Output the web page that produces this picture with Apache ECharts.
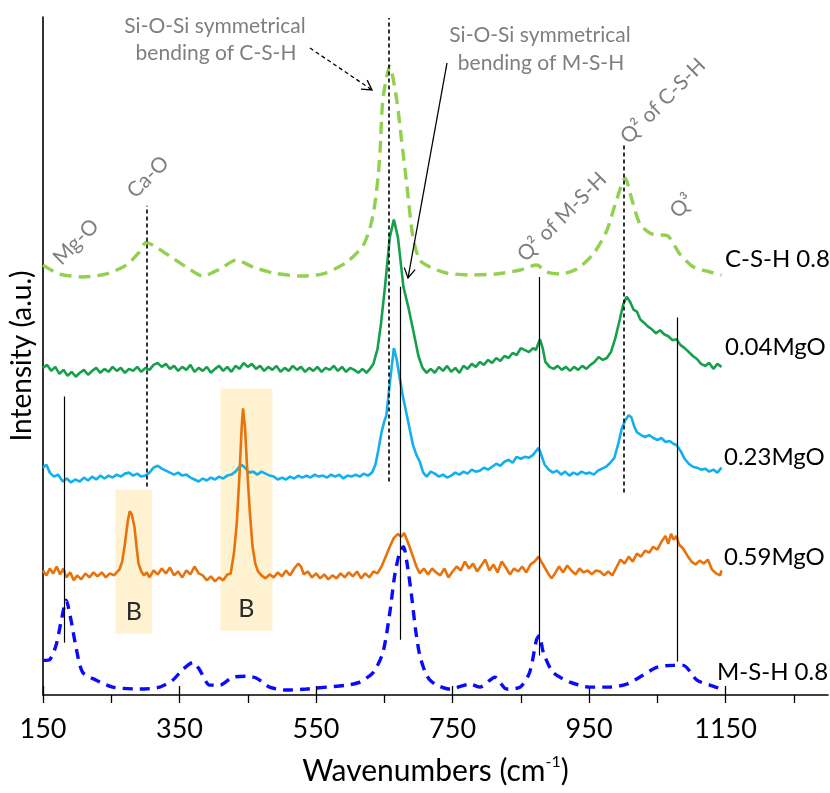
<!DOCTYPE html>
<html><head><meta charset="utf-8">
<script src="https://cdn.jsdelivr.net/npm/echarts@6/dist/echarts.min.js"></script>
<style>html,body{margin:0;padding:0;background:#fff}#c{width:830px;height:793px}</style>
</head><body><div id="c"></div>
<script>
// ---------- DATA (wavenumber cm-1, stacked intensity a.u.) ----------
const cshX = [150,174,208,243,272,291,301,316,340,360,384,409,433,458,487,526,560,595,619,630,636,641,644,648,658,668,675,683,692,702,717,741,775,814,849,873,888,907,932,956,976,988,1003,1012,1025,1044,1064,1083,1103,1127,1144];
const cshY = [450,441,438,441,450,463,473,468,457,448,439,446,455,448,442,439,441,453,470,490,511,540,568,618,651,618,578,531,478,455,448,442,440,441,445,450,443,441,446,461,485,511,538,518,491,481,480,461,448,443,440];

const mg004X = [150,156,162,168,174,180,186,192,198,204,210,216,222,228,234,240,246,252,258,264,270,276,282,288,294,300,306,312,318,324,330,336,342,348,354,360,366,372,378,384,390,396,402,408,414,420,426,432,438,444,450,456,462,468,474,480,486,492,498,504,510,516,522,528,534,540,546,552,558,564,570,576,582,588,594,600,606,612,618,624,630,634,640,645,651,658,664,670,678,685,692,700,706,712,718,724,730,736,742,748,754,760,766,772,778,784,790,796,802,808,814,820,826,832,838,844,850,856,862,868,872,878,882,886,892,898,904,910,916,922,928,934,940,946,952,958,964,970,976,982,988,995,1000,1005,1010,1015,1020,1025,1030,1036,1042,1048,1054,1060,1066,1072,1078,1084,1090,1096,1102,1108,1114,1120,1126,1132,1138,1144];
const mg004Y = [346,349,343,347,340,344,338,342,337,341,344,339,343,346,341,345,342,347,343,346,341,345,343,347,342,346,344,349,351,347,350,345,348,343,347,344,349,342,346,343,347,341,345,348,343,347,342,348,345,351,347,350,345,348,343,347,344,348,342,346,343,348,344,347,342,346,343,347,342,346,344,348,343,347,342,346,344,341,345,341,346,350,365,390,428,478,496,478,428,408,385,358,346,341,345,341,347,343,348,342,346,341,348,345,350,347,352,349,354,351,356,353,358,356,361,359,366,364,362,366,364,375,366,352,347,345,348,344,347,343,347,344,348,345,349,352,357,354,356,362,375,395,410,418,413,405,403,395,392,388,385,381,384,380,378,374,375,369,366,362,358,355,350,348,351,345,350,347];

const mg023X = [150,155,160,166,172,179,185,191,197,204,210,216,222,228,234,240,246,252,258,264,270,276,282,288,294,300,306,312,318,324,330,336,342,348,354,360,366,372,378,384,390,396,402,408,414,420,426,432,438,441,446,452,458,464,470,476,482,488,494,500,506,512,518,524,530,536,542,548,554,560,566,572,578,584,590,596,602,608,614,620,626,632,637,641,646,650,653,658,664,668,672,677,683,692,697,702,707,712,718,724,730,736,742,748,754,760,766,772,778,784,790,796,802,808,814,820,826,832,838,844,850,856,862,868,876,880,885,891,897,903,909,915,921,927,933,939,945,951,957,963,969,975,981,987,993,998,1003,1008,1012,1016,1020,1026,1032,1038,1044,1050,1056,1062,1068,1074,1078,1084,1090,1096,1102,1108,1114,1120,1126,1132,1138,1144];
const mg023Y = [245,248,240,236,238,231,234,230,233,231,235,232,236,233,237,234,237,235,238,236,239,240,237,239,236,237,240,245,247,244,242,240,238,240,237,238,235,233,231,234,232,235,233,236,234,237,238,241,246,248,245,240,241,238,241,239,237,236,233,235,233,236,234,237,235,237,235,238,236,237,235,238,236,238,234,237,236,238,236,239,237,240,248,262,281,292,298,330,366,355,338,318,298,268,258,251,240,236,241,239,236,238,235,237,240,238,241,239,243,241,242,245,243,246,249,247,251,253,250,256,254,256,255,258,265,258,248,243,240,242,238,241,237,240,238,241,239,240,238,242,244,246,250,255,270,285,293,298,296,287,281,278,276,278,275,273,275,271,272,269,268,262,254,249,246,245,243,244,241,243,240,245];

const mg059X = [150,155,160,165,170,175,180,184,190,195,200,206,212,218,224,230,236,242,248,254,258,262,266,270,274,277,280,284,287,290,294,298,302,306,312,318,324,330,336,342,348,354,360,366,372,378,384,390,396,402,408,414,420,425,430,434,438,441,443,446,449,453,457,461,465,470,476,482,488,494,500,506,512,518,524,528,532,538,544,550,556,562,568,574,580,586,592,598,604,610,616,622,628,634,640,646,652,658,664,670,675,679,683,687,692,697,702,708,714,720,726,732,738,744,750,756,762,768,774,780,786,792,798,804,810,816,822,828,834,840,846,852,858,864,870,876,880,885,890,895,900,906,912,918,924,930,936,942,948,954,960,966,972,978,984,990,996,1002,1008,1014,1020,1026,1032,1038,1044,1050,1056,1062,1066,1070,1074,1078,1082,1088,1094,1100,1106,1112,1118,1124,1130,1136,1142,1144];
const mg059Y = [141,136,143,138,145,137,143,134,139,131,136,132,138,134,139,135,139,134,138,136,139,142,150,168,190,201,198,185,165,148,140,136,139,134,141,137,143,138,144,136,140,134,141,137,145,138,136,131,135,130,134,131,137,138,160,190,240,285,305,285,245,200,165,148,140,136,133,137,134,139,135,141,136,143,148,145,137,140,134,138,133,137,132,136,133,138,134,139,135,140,133,138,134,140,138,145,155,165,174,178,175,179,172,165,155,145,138,143,137,143,139,136,143,134,140,145,141,150,143,148,140,146,152,141,147,139,150,144,137,143,140,145,139,147,150,155,150,144,138,133,138,145,139,146,141,137,143,139,141,137,141,140,136,140,136,144,152,148,155,150,158,155,161,159,165,162,170,176,168,178,172,176,167,163,156,150,147,151,148,152,142,138,136,141];

const mshX = [150,160,169,177,184,191,199,208,228,252,292,321,340,355,370,379,394,409,428,448,463,482,507,536,565,595,614,634,648,658,665,672,678,684,690,696,702,710,717,727,746,775,790,812,829,849,863,873,877,883,897,922,951,980,1005,1029,1049,1073,1088,1108,1127,1144];
const mshY = [50,51,65,91,111,91,61,38,30,23,21,23,30,41,48,41,25,25,33,34,32,23,20,21,23,25,28,38,58,98,135,158,165,145,115,80,55,38,30,25,21,26,23,33,21,23,38,71,75,58,38,28,23,23,26,35,43,45,45,30,25,21];

const seriesNames = ['C-S-H 0.8','0.04MgO','0.23MgO','0.59MgO','M-S-H 0.8'];

// reference lines: wavenumber, lower and upper intensity
const dashedRefX = [657, 302, 1001];
const dashedRefLo = [231, 226, 220];
const dashedRefHi = [700, 510, 574];
const solidRefX = [674, 181.5, 876.5, 1079];
const solidRefLo = [71, 68, 55, 49];
const solidRefHi = [428, 317, 438, 397];

// "B" highlighted bands: wavenumber range and intensity range
const bandX0 = [256, 410];
const bandX1 = [310, 486];
const bandY0 = [77, 80];
const bandY1 = [223, 325];

const xTickValues = [150,250,350,450,550,650,750,850,950,1050,1150,1250];
const xLabelValues = [150,350,550,750,950,1150];

// ---------- CHART ----------
const FONT = 'Lato, "Open Sans", "Noto Sans", sans-serif';
const zip = (xs, ys) => xs.map((x, i) => [x, ys[i]]);

const chart = echarts.init(document.getElementById('c'), null, {renderer: 'canvas'});

const refLines = [];
dashedRefX.forEach((x, i) => refLines.push([
  {coord: [x, dashedRefLo[i]], lineStyle: {type: [4, 3], color: '#000', width: 1.6}},
  {coord: [x, dashedRefHi[i]]}
]));
solidRefX.forEach((x, i) => refLines.push([
  {coord: [x, solidRefLo[i]], lineStyle: {type: 'solid', color: '#000', width: 1.2}},
  {coord: [x, solidRefHi[i]]}
]));

const bands = bandX0.map((x0, i) => [
  {coord: [x0, bandY0[i]]},
  {coord: [bandX1[i], bandY1[i]]}
]);

function arrow(x1, y1, x2, y2, dashed) {
  const dx = x2 - x1, dy = y2 - y1, L = Math.hypot(dx, dy);
  const ux = dx / L, uy = dy / L, h = 11, a = Math.PI / 6;
  const r = (ang) => [ux * Math.cos(ang) - uy * Math.sin(ang), ux * Math.sin(ang) + uy * Math.cos(ang)];
  const p1 = r(a), p2 = r(-a);
  return [
    {type: 'line', silent: true, z: 10, shape: {x1, y1, x2, y2},
      style: {stroke: '#000', lineWidth: 1.3, lineDash: dashed ? [4, 3] : null}},
    {type: 'polyline', silent: true, z: 10,
      shape: {points: [[x2 - h * p1[0], y2 - h * p1[1]], [x2, y2], [x2 - h * p2[0], y2 - h * p2[1]]]},
      style: {stroke: '#000', lineWidth: 1.3, fill: null}}
  ];
}

function txt(text, x, y, opts) {
  opts = opts || {};
  return {
    type: 'text', silent: true, z: 20, x, y, rotation: opts.rot || 0,
    style: {text, font: (opts.size || 21) + 'px ' + FONT, fill: opts.color || '#7f7f7f',
      align: opts.align || 'center', verticalAlign: 'middle'}
  };
}

const graphics = []
  .concat(arrow(310, 48, 372, 90, true))
  .concat(arrow(447, 63, 408, 278, false))
  .concat([
    txt('Si-O-Si symmetrical', 215, 26),
    txt('bending of C-S-H', 216, 53),
    txt('Si-O-Si symmetrical', 540, 35),
    txt('bending of M-S-H', 541, 63),
    txt('Mg-O', 76, 242, {rot: Math.PI / 4}),
    txt('Ca-O', 148, 177, {rot: Math.PI / 4}),
    txt('Q² of M-S-H', 562, 217, {rot: Math.PI / 4}),
    txt('Q² of C-S-H', 663, 101, {rot: Math.PI / 4}),
    txt('Q³', 682, 206, {rot: Math.PI / 4}),
    txt(seriesNames[0], 725, 259, {color: '#000', size: 24, align: 'left'}),
    txt(seriesNames[1], 725, 347, {color: '#000', size: 24, align: 'left'}),
    txt(seriesNames[2], 724, 457, {color: '#000', size: 24, align: 'left'}),
    txt(seriesNames[3], 724, 557, {color: '#000', size: 24, align: 'left'}),
    txt(seriesNames[4], 717, 672, {color: '#000', size: 24, align: 'left'})
  ]);

const option = {
  animation: false,
  backgroundColor: '#fff',
  grid: {left: 43, right: 2, top: 17, bottom: 90},
  xAxis: [{
    type: 'value', min: 150, max: 1300,
    axisLine: {show: true, onZero: false, lineStyle: {color: '#000', width: 1.6}},
    axisTick: {show: true, length: 8, customValues: xTickValues, lineStyle: {color: '#000', width: 1.3}},
    axisLabel: {customValues: xLabelValues, fontSize: 27, color: '#000', fontFamily: FONT, margin: 21,
      formatter: (v) => String(v)},
    splitLine: {show: false},
    name: 'Wavenumbers (cm{s|-1})', nameLocation: 'middle', nameGap: 59,
    nameTextStyle: {fontSize: 30, color: '#000', fontFamily: FONT, lineHeight: 34,
      rich: {s: {fontSize: 16, fontFamily: FONT, color: '#000', verticalAlign: 'top', lineHeight: 34}}}
  }, {
    type: 'value', min: 150, max: 1300, position: 'bottom',
    axisLine: {show: false},
    axisTick: {show: true, inside: true, length: 9, customValues: xLabelValues, lineStyle: {color: '#000', width: 1.3}},
    axisLabel: {show: false}, splitLine: {show: false}
  }],
  yAxis: {
    type: 'value', min: 15, max: 701,
    axisLine: {show: true, onZero: false, lineStyle: {color: '#000', width: 1.6}},
    axisTick: {show: false}, axisLabel: {show: false}, splitLine: {show: false},
    name: 'Intensity (a.u.)', nameLocation: 'middle', nameGap: 7,
    nameTextStyle: {fontSize: 28, color: '#000', fontFamily: FONT}
  },
  series: [
    {name: seriesNames[2], type: 'line', data: zip(mg023X, mg023Y), showSymbol: false, z: 3,
      lineStyle: {color: '#12b0ee', width: 2.6}},
    {name: seriesNames[3], type: 'line', data: zip(mg059X, mg059Y), showSymbol: false, z: 4,
      lineStyle: {color: '#e8720c', width: 2.6},
      markArea: {silent: true, itemStyle: {color: 'rgba(255,226,150,0.45)'},
        label: {show: true, position: 'insideBottom', distance: 9, formatter: 'B', fontSize: 25, color: '#2a2a2a', fontFamily: FONT},
        data: bands}},
    {name: seriesNames[1], type: 'line', data: zip(mg004X, mg004Y), showSymbol: false, z: 3,
      lineStyle: {color: '#17a04c', width: 2.6}},
    {name: seriesNames[0], type: 'line', data: zip(cshX, cshY), showSymbol: false, z: 3, smooth: 0.25,
      lineStyle: {color: '#92d050', width: 3.4, type: [12, 7]},
      markLine: {silent: true, symbol: 'none', label: {show: false}, data: refLines}},
    {name: seriesNames[4], type: 'line', data: zip(mshX, mshY), showSymbol: false, z: 3, smooth: 0.25,
      lineStyle: {color: '#0a0aff', width: 3.4, type: [10, 7]}}
  ],
  graphic: graphics
};
chart.setOption(option);
</script></body></html>
